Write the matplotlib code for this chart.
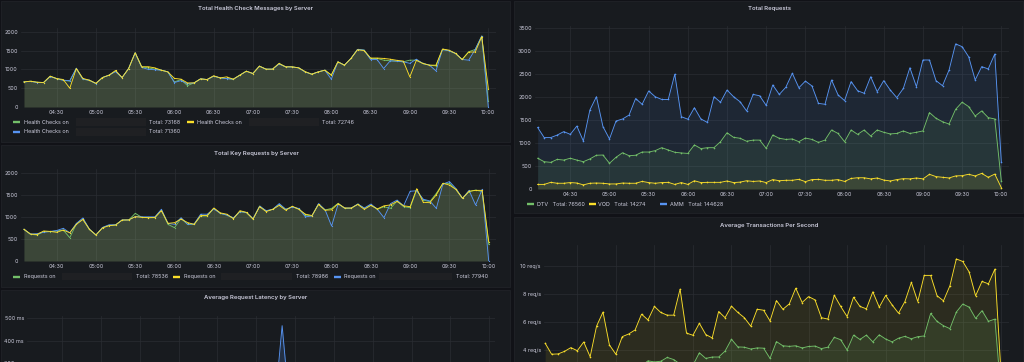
import numpy as np
import matplotlib
matplotlib.use("Agg")
import matplotlib.pyplot as plt
from matplotlib.patches import Rectangle
from matplotlib.lines import Line2D

plt.rcParams['font.family'] = ['Inter', 'DejaVu Sans']

# ---------------- data ----------------
minutes = np.arange(5, 365, 5)          # 04:05 ... 10:00 (minutes after 04:00)
tick_minutes = [30, 60, 90, 120, 150, 180, 210, 240, 270, 300, 330, 360]
tick_labels = ["04:30", "05:00", "05:30", "06:00", "06:30", "07:00",
               "07:30", "08:00", "08:30", "09:00", "09:30", "10:00"]

hc_green = [667, 685, 658, 650, 818, 755, 711, 685, 1022, 738,
            711, 622, 782, 845, 951, 782, 1022, 1440, 1067, 1040,
            1005, 978, 933, 667, 729, 569, 640, 747, 729, 818,
            773, 755, 738, 845, 951, 889, 1085, 1005, 1005, 1156,
            1067, 1067, 1040, 933, 871, 933, 978, 845, 1200, 1111,
            1289, 1529, 1511, 1289, 1289, 1244, 1227, 1218, 1200, 1244,
            1244, 1156, 1111, 1093, 1529, 1493, 1422, 1262, 1467, 1529,
            1885, 150]
hc_yellow = [667, 685, 658, 650, 818, 755, 730, 500, 1022, 760,
             711, 630, 782, 845, 970, 782, 1022, 1440, 1067, 1070,
             1040, 978, 933, 760, 740, 640, 640, 747, 729, 830,
             773, 800, 738, 845, 951, 889, 1085, 1005, 1005, 1156,
             1067, 1067, 1040, 940, 871, 933, 978, 850, 1200, 1111,
             1289, 1520, 1500, 1300, 1300, 1290, 1270, 1240, 1220, 800,
             1240, 1156, 1111, 1110, 1540, 1510, 1422, 1262, 1460, 1460,
             1870, 490]
hc_blue = [667, 680, 650, 650, 810, 750, 711, 700, 1030, 738,
           711, 622, 782, 845, 940, 782, 1022, 1440, 1050, 1000,
           990, 978, 933, 650, 700, 620, 640, 747, 729, 818,
           773, 755, 738, 845, 951, 889, 1085, 1005, 1005, 1140,
           1067, 1060, 1040, 930, 871, 933, 978, 738, 1200, 1111,
           1289, 1529, 1511, 1260, 1260, 1022, 1227, 1218, 1200, 1160,
           1270, 1156, 1111, 960, 1529, 1493, 1422, 1262, 1244, 1529,
           1885, 0]
hc_totals = ["73168", "72746", "71360"]

kr_green = [717, 604, 589, 664, 664, 679, 702, 528, 838, 951,
            717, 589, 755, 808, 815, 928, 928, 1079, 989, 981,
            981, 1155, 830, 755, 966, 830, 830, 1019, 1019, 1192,
            1079, 1041, 966, 1117, 1094, 951, 1245, 1132, 1170, 1283,
            1170, 1230, 1177, 1041, 1019, 1291, 1155, 1192, 1306, 1192,
            1192, 1291, 1192, 1268, 1170, 1230, 1192, 1358, 1230, 1208,
            1607, 1381, 1343, 1532, 1758, 1758, 1623, 1419, 1570, 1607,
            1570, 380]
kr_yellow = [717, 610, 600, 680, 670, 650, 700, 640, 830, 940,
             717, 589, 750, 800, 815, 928, 930, 1004, 989, 981,
             985, 1140, 853, 868, 950, 870, 830, 1030, 1030, 1200,
             1090, 1060, 960, 1140, 1100, 951, 1230, 1120, 1170, 1260,
             1150, 1240, 1170, 1060, 1030, 1280, 1150, 1160, 1300, 1200,
             1200, 1280, 1170, 1260, 1180, 1250, 1270, 1350, 1250, 1230,
             1638, 1330, 1320, 1500, 1760, 1720, 1620, 1420, 1580, 1600,
             1600, 438]
kr_blue = [717, 610, 620, 650, 670, 690, 740, 640, 850, 975,
           720, 589, 760, 820, 820, 930, 930, 1004, 1000, 1000,
           1000, 1170, 853, 830, 980, 830, 840, 1060, 1060, 1180,
           1080, 1040, 980, 1120, 1100, 960, 1240, 1140, 1170, 1300,
           1170, 1220, 1190, 1000, 1020, 1300, 1160, 792, 1290, 1200,
           1200, 1290, 1200, 1290, 1170, 981, 1300, 1380, 1250, 1580,
           1590, 1400, 1360, 1192, 1740, 1800, 1640, 1420, 1600, 1268,
           1620, 0]
kr_totals = ["78536", "78986", "77940"]

lat_blue = [150, 145, 140, 150, 155, 150, 160, 150, 145, 150,
            155, 150, 150, 145, 150, 155, 150, 160, 150, 150,
            145, 150, 155, 150, 150, 145, 150, 155, 150, 150,
            145, 150, 155, 150, 150, 155, 150, 150, 150, 467,
            150, 150, 145, 150, 155, 150, 150, 145, 150, 155,
            150, 150, 145, 150, 155, 150, 150, 145, 150, 155,
            150, 150, 145, 150, 155, 150, 150, 145, 150, 155,
            150, 100]
lat_ticks = [300, 400, 500]
lat_labels = ["300 ms", "400 ms", "500 ms"]

tr_dtv = [670, 595, 580, 645, 630, 670, 630, 595, 655, 735,
          740, 560, 690, 790, 725, 735, 805, 805, 835, 900,
          850, 800, 785, 775, 960, 880, 900, 900, 1030, 1225,
          1125, 1105, 1040, 1065, 1065, 885, 1175, 1105, 1080, 1090,
          1030, 1110, 1080, 1015, 1065, 1285, 1210, 1030, 1285, 1190,
          1285, 1155, 1285, 1235, 1200, 1210, 1265, 1210, 1235, 1265,
          1665, 1540, 1465, 1415, 1735, 1890, 1795, 1590, 1700, 1555,
          1525, 175]
tr_vod = [100, 100, 145, 125, 125, 140, 130, 90, 125, 130,
          125, 110, 110, 130, 125, 125, 165, 140, 125, 140,
          145, 100, 140, 100, 180, 140, 145, 145, 145, 175,
          140, 150, 180, 165, 175, 140, 205, 180, 190, 190,
          210, 160, 205, 210, 190, 190, 205, 165, 230, 245,
          245, 220, 240, 195, 175, 205, 225, 220, 240, 220,
          320, 270, 255, 240, 285, 290, 320, 285, 340, 255,
          325, 30]
tr_amm = [1340, 1120, 1120, 1175, 1250, 1190, 1370, 1045, 1720, 2010,
          1360, 1090, 1480, 1525, 1610, 1970, 1845, 2135, 2010, 1950,
          1950, 2500, 1575, 1520, 1770, 1525, 1450, 2010, 1890, 2155,
          2010, 1900, 1700, 2060, 2030, 1820, 2265, 2060, 2215, 2520,
          2205, 2350, 2245, 1865, 1845, 2375, 2050, 1925, 2340, 2140,
          2085, 2445, 2120, 2360, 2155, 1990, 2190, 2640, 2230, 2810,
          2810, 2360, 2250, 2590, 3160, 3100, 2880, 2375, 2665, 2615,
          2940, 595]
tr_names = ["DTV", "VOD", "AMM"]
tr_totals = ["76560", "14274", "144628"]

tps_yellow = [4.48, 3.7, 3.72, 3.9, 4.17, 3.95, 4.57, 3.52, 5.7, 6.7,
              4.36, 3.7, 4.95, 5.14, 5.43, 6.55, 6.14, 7.1, 6.67, 6.48,
              6.48, 8.33, 5.2, 5.05, 5.9, 5.1, 4.86, 6.74, 6.3, 7.12,
              6.67, 6.3, 5.7, 6.9, 6.83, 6.07, 7.52, 6.9, 7.28, 8.4,
              7.38, 7.8, 7.57, 6.3, 6.2, 7.9, 7.1, 6.38, 7.76, 7.1,
              6.93, 8.14, 7.05, 7.88, 7.21, 6.62, 7.45, 8.81, 7.45, 9.31,
              9.31, 7.86, 7.5, 8.57, 10.48, 10.3, 9.55, 7.86, 8.88, 8.71,
              9.76, 2.0]
tps_green = [2.57, 2.32, 2.42, 2.57, 2.52, 2.7, 2.53, 2.28, 2.6, 2.88,
             2.88, 2.23, 2.67, 3.07, 2.83, 2.87, 3.23, 3.15, 3.2, 3.47,
             3.32, 3.0, 3.08, 2.92, 3.8, 3.4, 3.5, 3.5, 3.92, 4.76,
             4.22, 4.2, 4.07, 4.15, 4.13, 3.4, 4.6, 4.3, 4.26, 4.3,
             4.15, 4.25, 4.28, 4.1, 4.2, 4.9, 4.73, 4.0, 5.06, 4.75,
             5.06, 4.58, 5.08, 4.78, 4.58, 4.84, 4.97, 4.8, 4.95, 5.0,
             6.6, 6.03, 5.73, 5.52, 6.7, 7.27, 7.05, 6.25, 6.8, 6.04,
             6.2, 0.7]
tps_ticks = [4, 6, 8, 10]
tps_labels = ["4 req/s", "6 req/s", "8 req/s", "10 req/s"]

# ---------------- style ----------------
W, H = 1024, 362
CANVAS = '#111217'
PANEL = '#181b1f'
BORDER = '#202328'
GRID = '#2a2d33'
TEXT = '#ccccdc'
GREEN, YELLOW, BLUE = '#73bf69', '#fade2a', '#5794f2'
MASK = '#1f2023'
TICK_FS = 3.9
LEG_FS = 3.9
TITLE_FS = 4.3
LW = 0.65

fig = plt.figure(figsize=(W / 100, H / 100), dpi=100, facecolor=CANVAS)


def fx(px):
    return px / W


def fy(py):
    return 1 - py / H


def panel(x0, y0, x1, y1):
    fig.patches.append(Rectangle((fx(x0), fy(y1)), (x1 - x0) / W, (y1 - y0) / H,
                                 transform=fig.transFigure, fc=PANEL, ec=BORDER,
                                 lw=0.6, zorder=-5))


def title(cx, cy, s):
    fig.text(fx(cx), fy(cy), s, ha='center', va='center', fontsize=TITLE_FS,
             color=TEXT, fontweight='semibold')


def make_axes(box, xref, yref, xlabels=True):
    xl, xr, yt, yb = box
    (v1, p1), (v2, p2) = xref
    (w1, q1), (w2, q2) = yref
    ax = fig.add_axes([fx(xl), fy(yb), (xr - xl) / W, (yb - yt) / H])
    mx = lambda p: v1 + (p - p1) * (v2 - v1) / (p2 - p1)
    my = lambda q: w1 + (q - q1) * (w2 - w1) / (q2 - q1)
    ax.set_xlim(mx(xl), mx(xr))
    ax.set_ylim(my(yb), my(yt))
    ax.set_facecolor('none')
    ax.set_zorder(1)
    for s in ax.spines.values():
        s.set_visible(False)
    ax.grid(True, color=GRID, lw=0.5)
    ax.set_axisbelow(True)
    ax.tick_params(length=0, labelsize=TICK_FS, colors=TEXT, pad=2.2)
    ax.set_xticks(tick_minutes)
    if xlabels:
        ax.set_xticklabels(tick_labels)
    else:
        ax.set_xticklabels([])
    return ax


def series(ax, y, color, alpha=0.1, ms=0.9):
    ax.fill_between(minutes, y, 0, color=color, alpha=alpha, lw=0)
    ax.plot(minutes, y, color=color, lw=LW, solid_joinstyle='round',
            marker='o', ms=ms, mew=0)


def legend_mark(x, y, color):
    fig.add_artist(Line2D([fx(x), fx(x + 7)], [fy(y), fy(y)], color=color,
                          lw=1.7, solid_capstyle='butt'))


def legend_text(x, y, s):
    fig.text(fx(x), fy(y), s, ha='left', va='center', fontsize=LEG_FS, color=TEXT)


def mask(x0, x1, y):
    fig.patches.append(Rectangle((fx(x0), fy(y + 3.6)), (x1 - x0) / W, 7.2 / H,
                                 transform=fig.transFigure, fc=MASK, ec='none',
                                 zorder=-4))


# ---------------- panels ----------------
panel(1, 1, 510, 142)
panel(1, 145, 510, 287)
panel(1, 290, 510, 372)
panel(514, 1, 1023, 213)
panel(514, 217, 1023, 372)

# Panel 1: Total Health Check Messages by Server
title(256, 8.7, "Total Health Check Messages by Server")
ax1 = make_axes((21, 496, 28, 107), ((30, 56.7), (360, 488.3)), ((0, 107), (2000, 31.7)))
ax1.set_yticks([0, 500, 1000, 1500, 2000])
series(ax1, hc_green, GREEN)
series(ax1, hc_blue, BLUE)
series(ax1, hc_yellow, YELLOW)

legend_mark(13, 122, GREEN)
legend_text(24, 122, "Health Checks on")
mask(76, 146, 122)
legend_text(149, 122, "Total: " + hc_totals[0])
legend_mark(186.5, 122, YELLOW)
legend_text(197, 122, "Health Checks on")
mask(249, 319, 122)
legend_text(322.5, 122, "Total: " + hc_totals[1])
legend_mark(13, 132, BLUE)
legend_text(24, 132, "Health Checks on")
mask(76, 146, 132)
legend_text(149, 132, "Total: " + hc_totals[2])

# Panel 2: Total Key Requests by Server
title(256, 153.3, "Total Key Requests by Server")
ax2 = make_axes((21, 496, 169, 261), ((30, 56.7), (360, 488.7)), ((0, 261), (2000, 172.7)))
ax2.set_yticks([0, 500, 1000, 1500, 2000])
series(ax2, kr_green, GREEN)
series(ax2, kr_blue, BLUE)
series(ax2, kr_yellow, YELLOW)

legend_mark(13, 276.7, GREEN)
legend_text(23.5, 276.7, "Requests on")
mask(62, 132, 276.7)
legend_text(136, 276.7, "Total: " + kr_totals[0])
legend_mark(173.3, 276.7, YELLOW)
legend_text(183.5, 276.7, "Requests on")
mask(220.5, 292, 276.7)
legend_text(296, 276.7, "Total: " + kr_totals[1])
legend_mark(333.5, 276.7, BLUE)
legend_text(344, 276.7, "Requests on")
mask(379, 452, 276.7)
legend_text(456, 276.7, "Total: " + kr_totals[2])

# Panel 3: Average Request Latency by Server
title(256, 297.7, "Average Request Latency by Server")
ax3 = make_axes((27, 495, 316, 430), ((30, 62), (360, 489.3)), ((0, 430), (500, 318.3)),
                xlabels=False)
ax3.set_yticks(lat_ticks)
ax3.set_yticklabels(lat_labels)
series(ax3, lat_blue, BLUE, alpha=0.18, ms=0)

# Panel 4: Total Requests
title(769, 8.3, "Total Requests")
ax4 = make_axes((535, 1009, 26, 189), ((30, 570.3), (360, 1001.3)), ((0, 189), (3500, 28.3)))
ax4.set_yticks([0, 500, 1000, 1500, 2000, 2500, 3000, 3500])
series(ax4, tr_amm, BLUE, ms=1.2)
series(ax4, tr_dtv, GREEN, ms=1.2)
series(ax4, tr_vod, YELLOW, ms=1.2)

legend_mark(527, 204, GREEN)
legend_text(537, 204, tr_names[0] + "   Total: " + tr_totals[0])
legend_mark(589, 204, YELLOW)
legend_text(598.5, 204, tr_names[1] + "   Total: " + tr_totals[1])
legend_mark(660, 204, BLUE)
legend_text(669.5, 204, tr_names[2] + "   Total: " + tr_totals[2])

# Panel 5: Average Transactions Per Second
title(769, 225.3, "Average Transactions Per Second")
ax5 = make_axes((544, 1009, 245, 406.2), ((30, 577.3), (360, 1001.3)), ((0, 406.2), (10, 265.7)),
                xlabels=False)
ax5.set_yticks(tps_ticks)
ax5.set_yticklabels(tps_labels)
series(ax5, tps_yellow, YELLOW, alpha=0.09, ms=1.2)
series(ax5, tps_green, GREEN, alpha=0.12, ms=1.2)

fig.savefig("out.png", dpi=100, facecolor=CANVAS)
